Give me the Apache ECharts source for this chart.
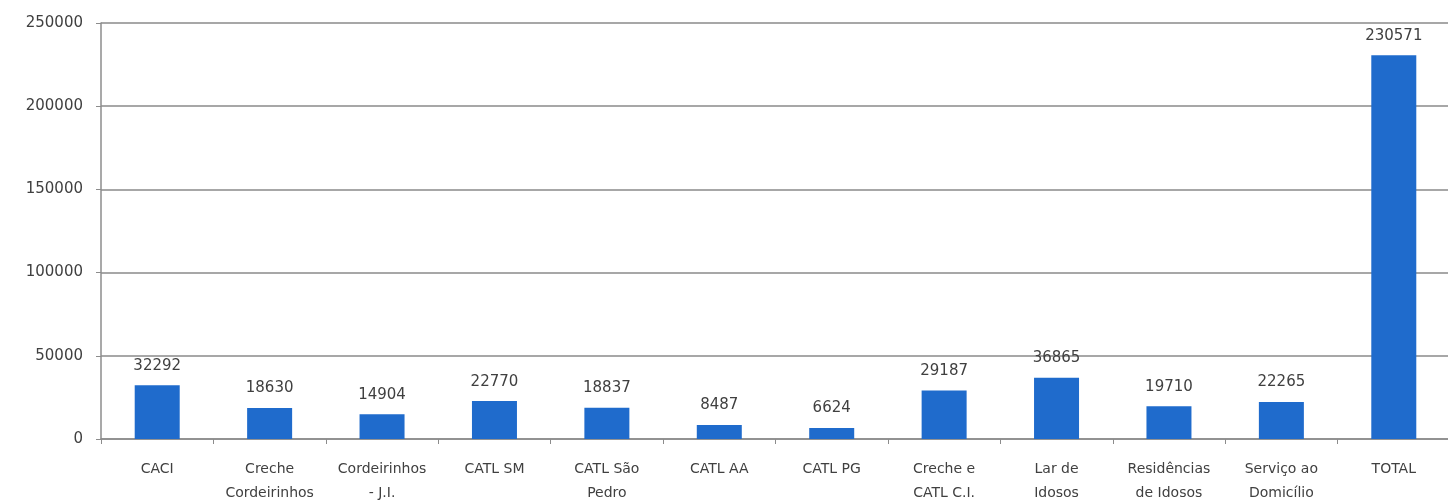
<!DOCTYPE html>
<html>
<head>
<meta charset="utf-8">
<script src="https://cdn.jsdelivr.net/npm/echarts@6/dist/echarts.min.js"></script>
<style>
html,body{margin:0;padding:0;background:#fff;}
#c{width:1448px;height:500px;}
</style>
</head>
<body>
<div id="c"></div>
<script>
const categories = ["CACI", "Creche\nCordeirinhos", "Cordeirinhos\n- J.I.", "CATL SM", "CATL São\nPedro", "CATL AA", "CATL PG", "Creche e\nCATL C.I.", "Lar de\nIdosos", "Residências\nde Idosos", "Serviço ao\nDomicílio", "TOTAL"];
const values = [32292, 18630, 14904, 22770, 18837, 8487, 6624, 29187, 36865, 19710, 22265, 230571];

const FONT = 'DejaVu Sans';
const chart = echarts.init(document.getElementById('c'), null, {renderer: 'canvas'});
chart.setOption({
  animation: false,
  backgroundColor: '#ffffff',
  grid: {left: 101, right: -2, top: 23, bottom: 61, containLabel: false, outerBoundsMode: 'none'},
  xAxis: {
    type: 'category',
    data: categories,
    axisLine: {show: true, lineStyle: {color: '#8c8c8c', width: 1.5}},
    axisTick: {show: true, length: 5, lineStyle: {color: '#8c8c8c'}},
    axisLabel: {color: '#404040', fontFamily: FONT, fontSize: 14, margin: 18, lineHeight: 24, interval: 0}
  },
  yAxis: {
    type: 'value',
    min: 0, max: 250000, interval: 50000,
    axisLine: {show: true, lineStyle: {color: '#8c8c8c', width: 1.5}},
    axisTick: {show: true, length: 5, lineStyle: {color: '#8c8c8c'}},
    axisLabel: {color: '#404040', fontFamily: FONT, fontSize: 15, margin: 18, formatter: v => String(v)},
    splitLine: {show: true, lineStyle: {color: '#8a8a8a', width: 1.5}}
  },
  series: [{
    type: 'bar',
    data: values,
    barWidth: 45,
    itemStyle: {color: '#1f6bcc'},
    label: {show: true, position: 'top', distance: 12, color: '#404040', fontFamily: FONT, fontSize: 15}
  }]
});
</script>
</body>
</html>
